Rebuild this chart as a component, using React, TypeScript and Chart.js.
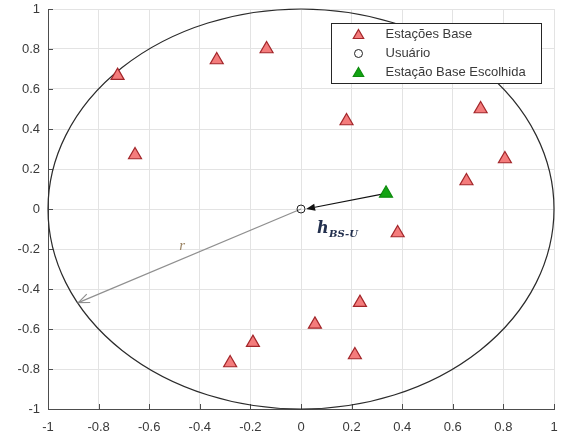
import React, { useEffect, useRef } from 'react';
import { Chart, registerables } from 'chart.js';

Chart.register(...registerables);

const X_TICKS = [-1, -0.8, -0.6, -0.4, -0.2, 0, 0.2, 0.4, 0.6, 0.8, 1];
const Y_TICKS = [-1, -0.8, -0.6, -0.4, -0.2, 0, 0.2, 0.4, 0.6, 0.8, 1];

const BASE_X = [-0.725, -0.656, -0.333, -0.136, 0.18, 0.71, 0.806, 0.654, 0.382, 0.233, 0.055, -0.19, -0.28, 0.213];
const BASE_Y = [0.667, 0.27, 0.745, 0.80, 0.44, 0.50, 0.25, 0.14, -0.12, -0.468, -0.577, -0.668, -0.77, -0.73];

const CHOSEN_X = [0.336];
const CHOSEN_Y = [0.078];

const USER_X = [0];
const USER_Y = [0];

const CIRCLE_RADIUS = 1;
const RADIUS_END = [-0.88, -0.468];
const R_LABEL_POS = [-0.47, -0.185];
const H_LABEL_POS = [0.063, -0.12];
const H_ARROW_END = [0.02, 0.0];

const LEGEND_LABELS = ['Estações Base', 'Usuário', 'Estação Base Escolhida'];

const RED_FILL = '#f47c7c';
const RED_EDGE = '#a3262a';
const GREEN_FILL = '#13a313';
const GREEN_EDGE = '#0e8c0e';
const AXIS_COLOR = '#4d4d4d';
const TEXT_COLOR = '#3a3a3a';

function drawTri(ctx: CanvasRenderingContext2D, x: number, y: number, r: number, fill: string, edge: string) {
  ctx.beginPath();
  ctx.moveTo(x, y - r);
  ctx.lineTo(x + r * Math.sin(Math.PI / 3), y + r / 2);
  ctx.lineTo(x - r * Math.sin(Math.PI / 3), y + r / 2);
  ctx.closePath();
  ctx.fillStyle = fill;
  ctx.fill();
  ctx.strokeStyle = edge;
  ctx.lineWidth = 1.2;
  ctx.stroke();
}

function drawArrow(ctx: CanvasRenderingContext2D, x1: number, y1: number, x2: number, y2: number,
  color: string, width: number, filled: boolean, headLen: number, headHalf: number) {
  const ang = Math.atan2(y2 - y1, x2 - x1);
  const ux = Math.cos(ang), uy = Math.sin(ang);
  const bx = x2 - ux * headLen, by = y2 - uy * headLen;
  ctx.save();
  ctx.strokeStyle = color;
  ctx.fillStyle = color;
  ctx.lineWidth = width;
  ctx.beginPath();
  ctx.moveTo(x1, y1);
  ctx.lineTo(filled ? bx : x2, filled ? by : y2);
  ctx.stroke();
  ctx.beginPath();
  ctx.moveTo(bx - uy * headHalf, by + ux * headHalf);
  ctx.lineTo(x2, y2);
  ctx.lineTo(bx + uy * headHalf, by - ux * headHalf);
  if (filled) {
    ctx.closePath();
    ctx.fill();
  } else {
    ctx.stroke();
  }
  ctx.restore();
}

const overlayPlugin = {
  id: 'overlay',
  beforeDatasetsDraw(chart: any) {
    const ctx: CanvasRenderingContext2D = chart.ctx;
    const xs = chart.scales.x, ys = chart.scales.y;
    ctx.save();
    ctx.strokeStyle = AXIS_COLOR;
    ctx.lineWidth = 1;
    const area = chart.chartArea;
    X_TICKS.forEach((v) => {
      const px = Math.round(xs.getPixelForValue(v)) + 0.5;
      ctx.beginPath();
      ctx.moveTo(px, area.bottom);
      ctx.lineTo(px, area.bottom - 5);
      ctx.stroke();
    });
    Y_TICKS.forEach((v) => {
      const py = Math.round(ys.getPixelForValue(v)) + 0.5;
      ctx.beginPath();
      ctx.moveTo(area.left, py);
      ctx.lineTo(area.left + 5, py);
      ctx.stroke();
    });
    ctx.restore();

    const cx = xs.getPixelForValue(USER_X[0]);
    const cy = ys.getPixelForValue(USER_Y[0]);
    const rx = xs.getPixelForValue(USER_X[0] + CIRCLE_RADIUS) - cx;
    const ry = cy - ys.getPixelForValue(USER_Y[0] + CIRCLE_RADIUS);
    ctx.save();
    ctx.beginPath();
    ctx.ellipse(cx, cy, rx, ry, 0, 0, Math.PI * 2);
    ctx.strokeStyle = '#2b2b2b';
    ctx.lineWidth = 1.2;
    ctx.stroke();
    ctx.restore();

    drawArrow(ctx, cx, cy, xs.getPixelForValue(RADIUS_END[0]), ys.getPixelForValue(RADIUS_END[1]),
      '#8f8f8f', 1.2, false, 11, 4.5);
    drawArrow(ctx, xs.getPixelForValue(CHOSEN_X[0]), ys.getPixelForValue(CHOSEN_Y[0]),
      xs.getPixelForValue(H_ARROW_END[0]), ys.getPixelForValue(H_ARROW_END[1]),
      '#111111', 1.2, true, 9, 3.5);

    ctx.save();
    ctx.fillStyle = '#9c8565';
    ctx.font = 'italic 15px "Liberation Serif", "DejaVu Serif", serif';
    ctx.textAlign = 'center';
    ctx.textBaseline = 'middle';
    ctx.fillText('r', xs.getPixelForValue(R_LABEL_POS[0]), ys.getPixelForValue(R_LABEL_POS[1]));
    ctx.textAlign = 'left';
    ctx.textBaseline = 'alphabetic';
    ctx.fillStyle = '#23304e';
    const hx = xs.getPixelForValue(H_LABEL_POS[0]);
    const hy = ys.getPixelForValue(H_LABEL_POS[1]);
    ctx.font = 'bold italic 16px "DejaVu Serif", "Liberation Serif", serif';
    ctx.fillText('h', hx, hy);
    const hw = ctx.measureText('h').width;
    ctx.font = 'bold italic 10px "DejaVu Serif", "Liberation Serif", serif';
    ctx.fillText('BS-U', hx + hw + 0.5, hy + 4);
    ctx.restore();
  },
  afterDraw(chart: any) {
    const ctx: CanvasRenderingContext2D = chart.ctx;
    const area = chart.chartArea;
    const bw = 210, bh = 60;
    const bx = Math.round(area.right - 13 - bw) + 0.5;
    const by = Math.round(area.top + 14) + 0.5;
    ctx.save();
    ctx.fillStyle = '#ffffff';
    ctx.fillRect(bx, by, bw, bh);
    ctx.strokeStyle = '#262626';
    ctx.lineWidth = 1;
    ctx.strokeRect(bx, by, bw, bh);
    const mx = bx + 27;
    const tx = bx + 54;
    const rows = [by + 11, by + 30, by + 49];
    drawTri(ctx, mx, rows[0] + 1, 6, RED_FILL, RED_EDGE);
    ctx.beginPath();
    ctx.arc(mx, rows[1], 4, 0, Math.PI * 2);
    ctx.strokeStyle = '#222';
    ctx.lineWidth = 1;
    ctx.stroke();
    drawTri(ctx, mx, rows[2] + 1, 6, GREEN_FILL, GREEN_EDGE);
    ctx.fillStyle = TEXT_COLOR;
    ctx.font = '13px "Liberation Sans", Arial, sans-serif';
    ctx.textAlign = 'left';
    ctx.textBaseline = 'middle';
    LEGEND_LABELS.forEach((l, i) => ctx.fillText(l, tx, rows[i]));
    ctx.restore();
  },
};

export default function App() {
  const ref = useRef<HTMLCanvasElement | null>(null);
  useEffect(() => {
    document.body.style.margin = '0';
    const canvas = ref.current;
    if (!canvas) return;
    const toPts = (xs: number[], ys: number[]) => xs.map((x, i) => ({ x, y: ys[i] }));
    const chart = new Chart(canvas, {
      type: 'scatter',
      data: {
        datasets: [
          {
            label: LEGEND_LABELS[0],
            data: toPts(BASE_X, BASE_Y),
            pointStyle: 'triangle',
            pointRadius: 7.5,
            backgroundColor: RED_FILL,
            borderColor: RED_EDGE,
            borderWidth: 1.2,
          },
          {
            label: LEGEND_LABELS[1],
            data: toPts(USER_X, USER_Y),
            pointStyle: 'circle',
            pointRadius: 4,
            backgroundColor: 'rgba(255,255,255,0)',
            borderColor: '#222222',
            borderWidth: 1,
          },
          {
            label: LEGEND_LABELS[2],
            data: toPts(CHOSEN_X, CHOSEN_Y),
            pointStyle: 'triangle',
            pointRadius: 7.5,
            backgroundColor: GREEN_FILL,
            borderColor: GREEN_EDGE,
            borderWidth: 1.2,
          },
        ],
      },
      options: {
        animation: false,
        responsive: false,
        devicePixelRatio: 1,
        layout: { padding: { top: 9, right: 10, left: 0, bottom: 0 } },
        plugins: { legend: { display: false }, tooltip: { enabled: false } },
        scales: {
          x: {
            type: 'linear',
            min: -1,
            max: 1,
            afterBuildTicks: (s: any) => { s.ticks = X_TICKS.map((v) => ({ value: v })); },
            afterFit: (s: any) => { s.height = 28; s.paddingLeft = 0; s.paddingRight = 0; s.paddingTop = 0; s.paddingBottom = 0; },
            ticks: {
              callback: (v: any) => String(Math.round(Number(v) * 10) / 10),
              color: TEXT_COLOR,
              font: { family: '"Liberation Sans", Arial, sans-serif', size: 13 },
              padding: 11,
              maxRotation: 0,
              autoSkip: false,
            },
            grid: { color: '#e3e3e3', drawTicks: false, lineWidth: 1 },
            border: { display: true, color: AXIS_COLOR, width: 1 },
          },
          y: {
            type: 'linear',
            min: -1,
            max: 1,
            afterBuildTicks: (s: any) => { s.ticks = Y_TICKS.map((v) => ({ value: v })); },
            afterFit: (s: any) => { s.width = 48; s.paddingLeft = 0; s.paddingRight = 0; s.paddingTop = 0; s.paddingBottom = 0; },
            ticks: {
              callback: (v: any) => String(Math.round(Number(v) * 10) / 10),
              color: TEXT_COLOR,
              font: { family: '"Liberation Sans", Arial, sans-serif', size: 13 },
              padding: 8,
              autoSkip: false,
            },
            grid: { color: '#e3e3e3', drawTicks: false, lineWidth: 1 },
            border: { display: true, color: AXIS_COLOR, width: 1 },
          },
        },
      },
      plugins: [overlayPlugin],
    } as any);
    return () => chart.destroy();
  }, []);
  return <canvas ref={ref} width={564} height={437} style={{ display: 'block', width: 564, height: 437 }} />;
}
